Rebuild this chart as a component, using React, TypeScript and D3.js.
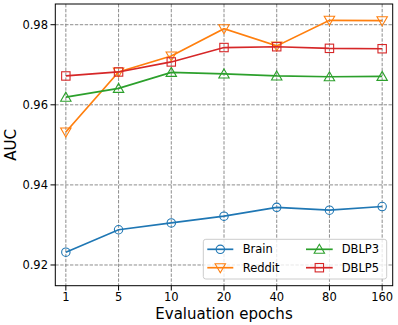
import React from 'react';
import * as d3 from 'd3';

const epochs = ['1', '5', '10', '20', '40', '80', '160'];
const yTicks = [0.92, 0.94, 0.96, 0.98];

const brain = [0.9232, 0.9288, 0.9305, 0.9322, 0.9344, 0.9337, 0.9346];
const reddit = [0.9532, 0.9682, 0.9722, 0.979, 0.9747, 0.9811, 0.981];
const dblp3 = [0.9619, 0.9641, 0.9681, 0.9677, 0.9672, 0.967, 0.9671];
const dblp5 = [0.9672, 0.9682, 0.9707, 0.9743, 0.9745, 0.9741, 0.974];

const seriesNames = ['Brain', 'Reddit', 'DBLP3', 'DBLP5'];
const seriesColors = ['#1f77b4', '#ff7f0e', '#2ca02c', '#d62728'];
const seriesMarkers = ['circle', 'down', 'up', 'square'];
const seriesValues = [brain, reddit, dblp3, dblp5];

const W = 398, H = 325;
const plot = {left: 55.3, right: 392.7, top: 4, bottom: 285.7};
const font = 'DejaVu Sans, sans-serif';

const Marker = ({kind, x, y, color}: {kind: string, x: number, y: number, color: string}) => {
  const common = {fill: 'none', stroke: color, strokeWidth: 1.1};
  if (kind === 'circle') return <circle cx={x} cy={y} r={4.2} {...common} />;
  if (kind === 'square') return <rect x={x - 4.2} y={y - 4.2} width={8.4} height={8.4} {...common} />;
  if (kind === 'up') return <path d={`M${x},${y - 5} L${x + 5.2},${y + 4} L${x - 5.2},${y + 4} Z`} {...common} />;
  return <path d={`M${x},${y + 5} L${x + 5.2},${y - 4} L${x - 5.2},${y - 4} Z`} {...common} />;
};

export default function App() {
  const x = d3.scalePoint<string>().domain(epochs).range([plot.left, plot.right]).padding(0.2);
  const y = d3.scaleLinear().domain([0.91483, 0.98517]).range([plot.bottom, plot.top]);

  const line = d3.line<number>()
    .x((d, i) => x(epochs[i]) as number)
    .y(d => y(d));

  const legendCols = [
    {lineX0: 207.3, lineX1: 233.3, textX: 242.7},
    {lineX0: 306, lineX1: 332.7, textX: 341.7},
  ];
  const legendRows = [249.3, 267.7];

  return (
    <svg width={W} height={H} style={{position: 'absolute', left: 0, top: 0}} fontFamily={font}>
      <rect x={0} y={0} width={W} height={H} fill="#fff" />
      <clipPath id="plotClip">
        <rect x={plot.left} y={plot.top} width={plot.right - plot.left} height={plot.bottom - plot.top} />
      </clipPath>

      {/* grid */}
      <g stroke="#808080" strokeWidth={0.9} strokeDasharray="3.4,1.5">
        {epochs.map(e => (
          <line key={e} x1={x(e)} x2={x(e)} y1={plot.top} y2={plot.bottom} />
        ))}
        {yTicks.map(t => (
          <line key={t} x1={plot.left} x2={plot.right} y1={y(t)} y2={y(t)} />
        ))}
      </g>

      {/* series */}
      <g clipPath="url(#plotClip)">
        {seriesValues.map((vals, si) => (
          <g key={seriesNames[si]}>
            <path d={line(vals) || ''} fill="none" stroke={seriesColors[si]} strokeWidth={1.7} />
            {vals.map((v, i) => (
              <Marker key={i} kind={seriesMarkers[si]} x={x(epochs[i]) as number} y={y(v)} color={seriesColors[si]} />
            ))}
          </g>
        ))}
      </g>

      {/* frame */}
      <rect x={plot.left} y={plot.top} width={plot.right - plot.left} height={plot.bottom - plot.top}
        fill="none" stroke="#000" strokeWidth={1} />

      {/* x ticks */}
      <g fontSize={11.5} fill="#000">
        {epochs.map(e => (
          <g key={e}>
            <line x1={x(e)} x2={x(e)} y1={plot.bottom} y2={plot.bottom + 4.8} stroke="#000" strokeWidth={1} />
            <text x={x(e)} y={301.3} textAnchor="middle">{e}</text>
          </g>
        ))}
        {yTicks.map(t => (
          <g key={t}>
            <line x1={plot.left - 4.8} x2={plot.left} y1={y(t)} y2={y(t)} stroke="#000" strokeWidth={1} />
            <text x={48} y={y(t)} dy="0.36em" textAnchor="end">{t.toFixed(2)}</text>
          </g>
        ))}
      </g>

      {/* axis labels */}
      <text x={(plot.left + plot.right) / 2} y={319} textAnchor="middle" fontSize={15}>Evaluation epochs</text>
      <text transform={`translate(15.5, ${(plot.top + plot.bottom) / 2}) rotate(-90)`} textAnchor="middle" fontSize={15}>AUC</text>

      {/* legend */}
      <rect x={203.3} y={239.3} width={183.4} height={39.7} rx={2.5} fill="#fff" fillOpacity={0.8} stroke="#cccccc" strokeWidth={1} />
      {seriesNames.map((name, si) => {
        const col = legendCols[Math.floor(si / 2)];
        const ry = legendRows[si % 2];
        return (
          <g key={name}>
            <line x1={col.lineX0} x2={col.lineX1} y1={ry} y2={ry} stroke={seriesColors[si]} strokeWidth={1.7} />
            <Marker kind={seriesMarkers[si]} x={(col.lineX0 + col.lineX1) / 2} y={ry} color={seriesColors[si]} />
            <text x={col.textX} y={ry} dy="0.36em" fontSize={11.5} fill="#000">{name}</text>
          </g>
        );
      })}
    </svg>
  );
}
